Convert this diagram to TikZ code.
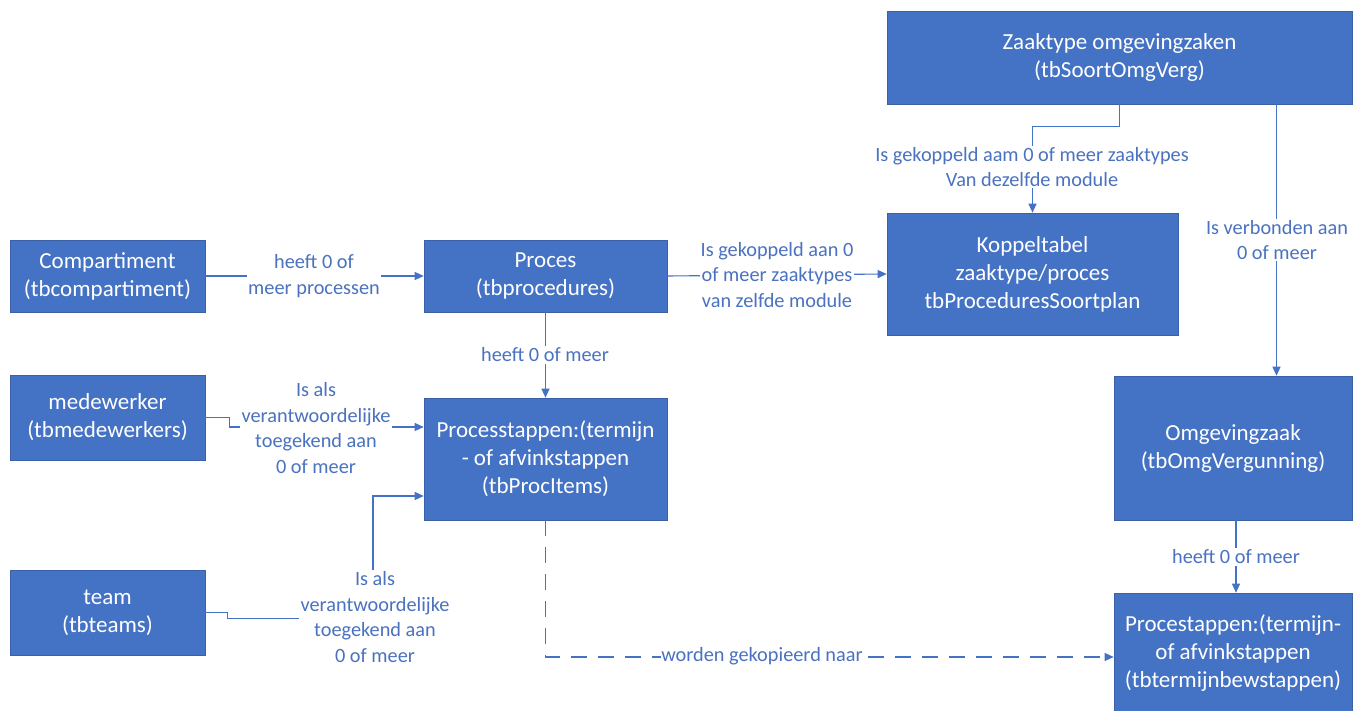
\documentclass[tikz,border=0pt]{standalone}
\usepackage{fontspec}
\setmainfont{Carlito}
\usetikzlibrary{arrows.meta}
\definecolor{boxblue}{HTML}{4472C4}
\definecolor{lblblue}{HTML}{4A72C0}
\tikzset{
  ent/.style={draw=boxblue!85!black, line width=0.6pt, fill=boxblue, text=white, align=center, inner sep=0pt,
    font=\fontsize{23}{28}\selectfont},
  lbl/.style={fill=white, text=lblblue, align=center, inner sep=1.5pt, font=\fontsize{20.3}{25.5}\selectfont},
  conn/.style={draw=boxblue, line width=1.1pt},
  arr/.style={conn, -{Triangle[length=9pt,width=8pt]}},
  dsh/.style={arr, dash pattern=on 16pt off 11pt},
}
\begin{document}
\begin{tikzpicture}[x=1pt,y=-1pt]
\useasboundingbox (0,0) rectangle (1354,711);
% entities
\node[ent, minimum width=195pt, minimum height=72pt] (comp) at (107.5,276) {Compartiment\\(tbcompartiment)};
\node[ent, minimum width=243pt, minimum height=72pt] (proc) at (545.5,276) {Proces\\(tbprocedures)};
\node[ent, minimum width=291pt, minimum height=122pt] (kop) at (1032.5,274) {Koppeltabel\\zaaktype/proces\\tbProceduresSoortplan};
\node[ent, minimum width=465pt, minimum height=93pt] (zt) at (1119.5,57.5) {Zaaktype omgevingzaken\\(tbSoortOmgVerg)};
\node[ent, minimum width=195pt, minimum height=85pt] (med) at (107.5,417.5) {medewerker\\(tbmedewerkers)};
\node[ent, minimum width=243pt, minimum height=122pt] (pst) at (545.5,459) {Processtappen:(termijn\\- of afvinkstappen\\(tbProcItems)};
\node[ent, minimum width=195pt, minimum height=85pt] (team) at (107.5,612.5) {team\\(tbteams)};
\node[ent, minimum width=238pt, minimum height=144pt] (omg) at (1233,448) {Omgevingzaak\\(tbOmgVergunning)};
\node[ent, minimum width=238pt, minimum height=120pt] (ps2) at (1233,653) {Procestappen:(termijn-\\of afvinkstappen\\(tbtermijnbewstappen)};
% connectors
\draw[arr] (comp.east) -- (proc.west);
\draw[arr] (proc.east) -- (kop.west);
\draw[arr] (zt.south) -- ++(0,22) -| (kop.north);
\draw[arr] ([xshift=157pt]zt.south) coordinate (zr) -- (zr |- omg.north);
\draw[arr] (proc.south) -- (pst.north);
\draw[arr] (med.east) -- ++(24,0) |- ([yshift=32pt]pst.west);
\draw[arr] (team.east) -- ++(22,0) -- ++(0,6) -| (373,496) -- ([yshift=-37pt]pst.west);
\draw[dsh] (pst.south) |- ([yshift=-4pt]ps2.west);
\draw[arr] ([xshift=3pt]omg.south) -- ([xshift=3pt]ps2.north);
% labels
\node[lbl] (l1) at (314,276) {heeft 0 of\\meer processen};
\node[lbl, inner sep=0.5pt] (l2) at (777,275) {Is gekoppeld aan 0\\of meer zaaktypes\\van zelfde module};
\node[lbl] (l3) at (1032,167) {Is gekoppeld aam 0 of meer zaaktypes\\Van dezelfde module};
\node[lbl] (l4) at (1277,240) {Is verbonden aan\\0 of meer};
\node[lbl] (l5) at (545,355) {heeft 0 of meer};
\node[lbl] (l6) at (316,428) {Is als\\verantwoordelijke\\toegekend aan\\0 of meer};
\node[lbl] (l7) at (375,617) {Is als\\verantwoordelijke\\toegekend aan\\0 of meer};
\node[lbl, inner sep=0.5pt] (l8) at (762,656) {worden gekopieerd naar};
\node[lbl] (l9) at (1236,557) {heeft 0 of meer};
\end{tikzpicture}
\end{document}
